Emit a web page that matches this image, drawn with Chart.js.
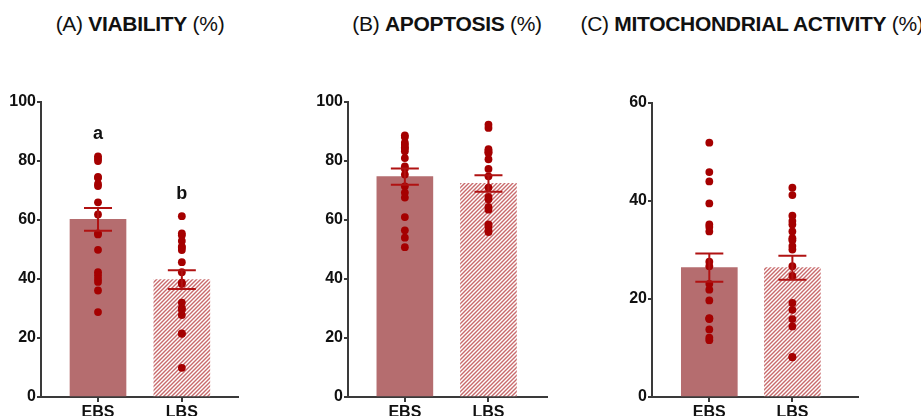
<!DOCTYPE html>
<html>
<head>
<meta charset="utf-8">
<script src="https://cdn.jsdelivr.net/npm/chart.js@4"></script>
<style>
  html, body { margin:0; padding:0; background:#fff; width:921px; height:416px; overflow:hidden; position:relative; }
  canvas { position:absolute; top:0; }
  .ttl { position:absolute; top:12px; font-family:"Liberation Sans", Arial, sans-serif; font-size:21px; color:#111; white-space:nowrap; transform:translateX(-50%); letter-spacing:-0.3px; }
  .ttl b { font-weight:bold; }
</style>
</head>
<body>
<div class="ttl" style="left:140px">(A) <b>VIABILITY</b> (%)</div>
<div class="ttl" style="left:447px">(B) <b>APOPTOSIS</b> (%)</div>
<div class="ttl" style="left:752px">(C) <b>MITOCHONDRIAL ACTIVITY</b> (%)</div>
<canvas id="cA" width="250" height="430" style="left:0px"></canvas>
<canvas id="cB" width="260" height="430" style="left:300px"></canvas>
<canvas id="cC" width="260" height="430" style="left:610px"></canvas>
<script>
// ---- data ----
const categories = ['EBS', 'LBS'];

const viabilityMean = [60.2, 39.8];
const viabilitySem = [3.85, 3.2];
const viabilityEBS = [81.6, 80.8, 80.0, 74.6, 74.3, 72.2, 71.5, 66.0, 61.9, 55.5, 55.1, 49.9, 42.3, 41.2, 40.0, 39.0, 36.1, 28.8];
const viabilityLBS = [61.3, 55.5, 54.8, 52.9, 51.0, 50.7, 49.8, 45.7, 42.3, 38.8, 38.4, 32.0, 30.1, 29.6, 27.8, 21.6, 21.4, 9.9];
const viabilityLetters = ['a', 'b'];

const apoptosisMean = [74.7, 72.4];
const apoptosisSem = [2.75, 2.8];
const apoptosisEBS = [88.7, 88.1, 86.2, 85.5, 84.7, 84.2, 83.3, 81.0, 78.2, 77.4, 75.4, 71.4, 69.3, 67.6, 61.0, 56.5, 54.0, 50.8];
const apoptosisLBS = [92.3, 91.2, 84.0, 83.4, 83.0, 82.7, 80.6, 77.3, 74.8, 71.0, 67.8, 67.0, 64.4, 63.5, 58.5, 58.0, 56.5, 55.9];

const mitoMean = [26.4, 26.4];
const mitoSem = [2.9, 2.45];
const mitoEBS = [51.9, 45.9, 44.0, 39.5, 35.2, 34.7, 33.8, 27.6, 26.7, 23.1, 21.9, 19.7, 16.1, 16.0, 15.9, 13.8, 12.1, 11.6];
const mitoLBS = [42.7, 41.2, 37.0, 35.9, 35.2, 33.8, 32.4, 32.0, 30.8, 30.1, 26.7, 24.7, 19.2, 17.8, 15.9, 14.4, 8.2, 8.1];

const yTicksA = [0, 20, 40, 60, 80, 100];
const yTicksC = [0, 20, 40, 60];

// ---- style ----
const FONT = '"Liberation Sans", Arial, sans-serif';
const AXIS = '#3a3a3a';
const BAR = '#b56d6f';
const DOT = '#a50000';
const ERR = '#b01212';

function hatch() {
  const s = 4;
  const c = document.createElement('canvas');
  c.width = s; c.height = s;
  const g = c.getContext('2d');
  g.fillStyle = '#ffffff';
  g.fillRect(0, 0, s, s);
  g.strokeStyle = '#c86a6c';
  g.lineWidth = 1.4;
  g.beginPath();
  g.moveTo(-1, s + 1); g.lineTo(s + 1, -1);
  g.moveTo(-1, 1); g.lineTo(1, -1);
  g.moveTo(s - 1, s + 1); g.lineTo(s + 1, s - 1);
  g.stroke();
  return g.createPattern(c, 'repeat');
}

const overlay = {
  id: 'overlay',
  afterDatasetsDraw(chart, args, o) {
    const { ctx, scales: { x, y } } = chart;
    ctx.save();
    ctx.strokeStyle = ERR;
    ctx.lineWidth = 2;
    o.mean.forEach((m, i) => {
      const px = x.getPixelForValue(i);
      const t = y.getPixelForValue(m + o.sem[i]);
      const b = y.getPixelForValue(m - o.sem[i]);
      ctx.beginPath();
      ctx.moveTo(px, t); ctx.lineTo(px, b);
      ctx.moveTo(px - 14, t); ctx.lineTo(px + 14, t);
      ctx.moveTo(px - 14, b); ctx.lineTo(px + 14, b);
      ctx.stroke();
    });
    if (o.letters) {
      ctx.fillStyle = '#111';
      ctx.font = 'bold 18px ' + FONT;
      ctx.textAlign = 'center';
      ctx.textBaseline = 'middle';
      o.letters.forEach((L, i) => {
        const top = Math.max(...o.points[i]);
        ctx.fillText(L, x.getPixelForValue(i), y.getPixelForValue(top + 7.6));
      });
    }
    ctx.restore();
  }
};

function makeChart(id, p) {
  const pts = (arr, i) => arr.map(v => ({ x: i, y: v }));
  new Chart(document.getElementById(id), {
    data: {
      datasets: [
        {
          type: 'scatter',
          data: pts(p.ebs, 0).concat(pts(p.lbs, 1)),
          pointRadius: 3.9,
          pointBackgroundColor: DOT,
          pointBorderWidth: 0,
          order: 1
        },
        {
          type: 'bar',
          data: p.mean.map((m, i) => ({ x: i, y: m })),
          backgroundColor: [BAR, hatch()],
          borderWidth: 0,
          barThickness: 56,
          order: 2
        }
      ]
    },
    options: {
      responsive: false,
      animation: false,
      devicePixelRatio: 1,
      layout: { padding: { left: 0, right: p.padRight, top: p.padTop, bottom: 0 } },
      plugins: {
        legend: { display: false },
        tooltip: { enabled: false },
        overlay: { mean: p.mean, sem: p.sem, letters: p.letters, points: [p.ebs, p.lbs] }
      },
      scales: {
        x: {
          type: 'linear',
          offset: false,
          min: p.xMin, max: p.xMax,
          afterBuildTicks: s => { s.ticks = categories.map((c, i) => ({ value: i })); },
          afterFit: s => { s.height = 33; },
          ticks: {
            callback: v => categories[v],
            font: { family: FONT, size: 16, weight: 'bold' },
            color: '#111',
            padding: 1,
            maxRotation: 0
          },
          grid: { drawOnChartArea: false, drawTicks: true, tickLength: 5, color: AXIS, lineWidth: 2, offset: false },
          border: { display: true, color: AXIS, width: 2 }
        },
        y: {
          min: 0, max: p.yMax,
          afterBuildTicks: s => { s.ticks = p.yTicks.map(v => ({ value: v })); },
          afterFit: s => { s.width = p.axisW; },
          ticks: {
            font: { family: FONT, size: 16, weight: 'bold' },
            color: '#111',
            padding: 1
          },
          grid: { drawOnChartArea: false, drawTicks: true, tickLength: 4, color: AXIS, lineWidth: 2 },
          border: { display: true, color: AXIS, width: 2 }
        }
      }
    },
    plugins: [overlay]
  });
}

makeChart('cA', { ebs: viabilityEBS, lbs: viabilityLBS, mean: viabilityMean, sem: viabilitySem, letters: viabilityLetters,
  yMax: 100, yTicks: yTicksA, axisW: 41, padRight: 12, padTop: 102, xMin: -0.68, xMax: 1.67 });
makeChart('cB', { ebs: apoptosisEBS, lbs: apoptosisLBS, mean: apoptosisMean, sem: apoptosisSem,
  yMax: 100, yTicks: yTicksA, axisW: 48, padRight: 13, padTop: 102, xMin: -0.68, xMax: 1.70 });
makeChart('cC', { ebs: mitoEBS, lbs: mitoLBS, mean: mitoMean, sem: mitoSem,
  yMax: 60, yTicks: yTicksC, axisW: 42, padRight: 12, padTop: 103, xMin: -0.69, xMax: 1.79 });
</script>
</body>
</html>
